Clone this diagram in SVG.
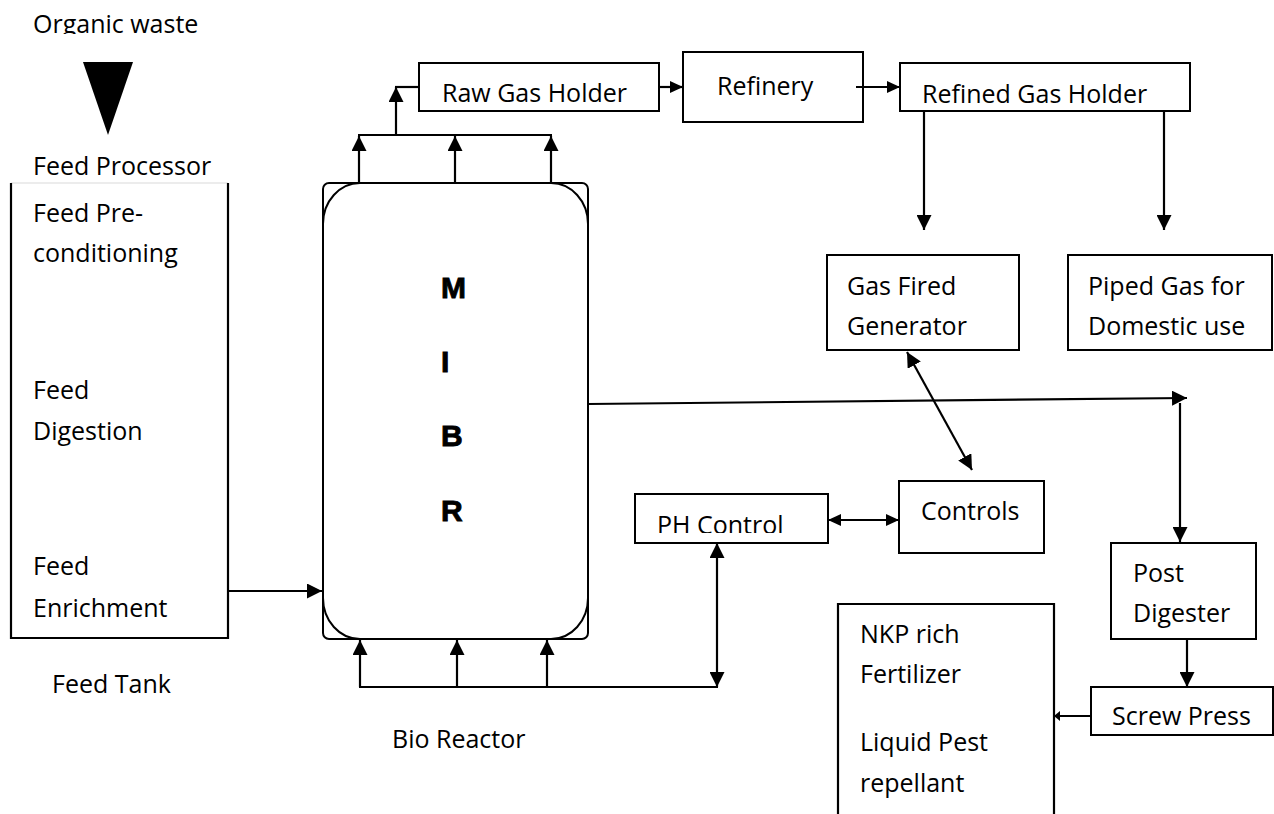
<svg xmlns="http://www.w3.org/2000/svg" width="1274" height="814" viewBox="0 0 1274 814">
<style>
text{font-family:"Open Sans","Liberation Sans",sans-serif;font-size:25px;fill:#000}
.big{font-family:"Liberation Sans",Arial,sans-serif;font-weight:900;font-size:30px;stroke:#000;stroke-width:0.9}
.box{fill:#fff;stroke:#000;stroke-width:2}
.ln{fill:none;stroke:#000;stroke-width:2.2}
</style>
<defs>
<marker id="ah" viewBox="0 0 15 15" refX="15" refY="7.5" markerWidth="15" markerHeight="15" markerUnits="userSpaceOnUse" orient="auto-start-reverse"><path d="M0,0 L15,7.5 L0,15 z" fill="#000"/></marker>
<marker id="am" viewBox="0 0 13 12" refX="13" refY="6" markerWidth="13" markerHeight="12" markerUnits="userSpaceOnUse" orient="auto-start-reverse"><path d="M0,0 L13,6 L0,12 z" fill="#000"/></marker>
<marker id="as" viewBox="0 0 6 10" refX="6" refY="5" markerWidth="6" markerHeight="10" markerUnits="userSpaceOnUse" orient="auto-start-reverse"><path d="M0,0 L6,5 L0,10 z" fill="#000"/></marker>
<clipPath id="c1"><rect x="0" y="0" width="300" height="34"/></clipPath>
<clipPath id="c2"><rect x="419" y="63" width="240" height="39"/></clipPath>
<clipPath id="c3"><rect x="900" y="63" width="290" height="40"/></clipPath>
<clipPath id="c4"><rect x="635" y="494" width="193" height="39"/></clipPath>
</defs>

<g id="organic-waste">
<text x="33" y="33" clip-path="url(#c1)">Organic waste</text>
<polygon points="83,62 133,62 108,135" fill="#000"/>
</g>

<g id="feed-tank">
<text x="33" y="175">Feed Processor</text>
<line x1="11" y1="183" x2="228" y2="183" stroke="#e6e6e6" stroke-width="1.5"/>
<path class="ln" d="M11,183 V638 H228 V183"/>
<text x="33" y="222">Feed Pre-</text>
<text x="33" y="262">conditioning</text>
<text x="33" y="399">Feed</text>
<text x="33" y="440">Digestion</text>
<text x="33" y="575">Feed</text>
<text x="33" y="617">Enrichment</text>
<text x="52" y="693">Feed Tank</text>
</g>

<g id="bio-reactor">
<rect x="323" y="183" width="265" height="456" rx="6" class="box"/>
<rect x="323" y="183" width="265" height="456" rx="37" ry="41" class="box"/>
<text class="big" x="441" y="298">M</text>
<text class="big" x="441" y="372">I</text>
<text class="big" x="441" y="446">B</text>
<text class="big" x="441" y="521">R</text>
<text x="392" y="748">Bio Reactor</text>
</g>

<g id="raw-gas-holder">
<rect x="419" y="63" width="240" height="48" class="box"/>
<text x="442" y="102" clip-path="url(#c2)">Raw Gas Holder</text>
</g>

<g id="refinery">
<rect x="683" y="52" width="180" height="70" class="box"/>
<text x="717" y="95">Refinery</text>
</g>

<g id="refined-gas-holder">
<rect x="900" y="63" width="290" height="48" class="box"/>
<text x="922" y="103" clip-path="url(#c3)">Refined Gas Holder</text>
</g>

<g id="gas-fired-generator">
<rect x="827" y="255" width="192" height="95" class="box"/>
<text x="847" y="295">Gas Fired</text>
<text x="847" y="335">Generator</text>
</g>

<g id="piped-gas">
<rect x="1068" y="255" width="204" height="95" class="box"/>
<text x="1088" y="295">Piped Gas for</text>
<text x="1088" y="335">Domestic use</text>
</g>

<g id="ph-control">
<rect x="635" y="494" width="193" height="49" class="box"/>
<text x="657" y="534" clip-path="url(#c4)">PH Control</text>
</g>

<g id="controls">
<rect x="899" y="481" width="145" height="72" class="box"/>
<text x="921" y="520">Controls</text>
</g>

<g id="post-digester">
<rect x="1111" y="543" width="145" height="96" class="box"/>
<text x="1133" y="582">Post</text>
<text x="1133" y="622">Digester</text>
</g>

<g id="screw-press">
<rect x="1091" y="687" width="182" height="48" class="box"/>
<text x="1112" y="725">Screw Press</text>
</g>

<g id="fertilizer">
<path class="ln" d="M838,816 V604 H1054 V816"/>
<text x="860" y="643">NKP rich</text>
<text x="860" y="683">Fertilizer</text>
<text x="860" y="751">Liquid Pest</text>
<text x="860" y="792">repellant</text>
</g>

<g id="connectors">
<line class="ln" x1="228" y1="591" x2="322" y2="591" marker-end="url(#ah)"/>
<line class="ln" x1="359" y1="183" x2="359" y2="136" marker-end="url(#ah)"/>
<line class="ln" x1="455" y1="183" x2="455" y2="136" marker-end="url(#ah)"/>
<line class="ln" x1="551" y1="183" x2="551" y2="136" marker-end="url(#ah)"/>
<line class="ln" x1="358" y1="135" x2="552" y2="135"/>
<line class="ln" x1="396" y1="135" x2="396" y2="87" marker-end="url(#ah)"/>
<line class="ln" x1="395" y1="87" x2="419" y2="87"/>
<line class="ln" x1="659" y1="87" x2="683" y2="87" marker-end="url(#am)"/>
<line class="ln" x1="856" y1="87" x2="900" y2="87" marker-end="url(#am)"/>
<line class="ln" x1="924" y1="111" x2="924" y2="230" marker-end="url(#ah)"/>
<line class="ln" x1="1164" y1="111" x2="1164" y2="230" marker-end="url(#ah)"/>
<line class="ln" x1="588" y1="404" x2="1187" y2="398" marker-end="url(#ah)"/>
<line class="ln" x1="1180" y1="403" x2="1180" y2="542" marker-end="url(#ah)"/>
<line class="ln" x1="907" y1="352" x2="972" y2="470" marker-start="url(#ah)" marker-end="url(#ah)"/>
<line class="ln" x1="828" y1="520" x2="899" y2="520" marker-start="url(#am)" marker-end="url(#am)"/>
<line class="ln" x1="717" y1="687" x2="717" y2="543" marker-start="url(#ah)" marker-end="url(#ah)"/>
<line class="ln" x1="359" y1="687" x2="718" y2="687"/>
<line class="ln" x1="360" y1="687" x2="360" y2="640" marker-end="url(#ah)"/>
<line class="ln" x1="457" y1="687" x2="457" y2="640" marker-end="url(#ah)"/>
<line class="ln" x1="547" y1="687" x2="547" y2="640" marker-end="url(#ah)"/>
<line class="ln" x1="1187" y1="639" x2="1187" y2="687" marker-end="url(#ah)"/>
<line class="ln" x1="1091" y1="716" x2="1054" y2="716" marker-end="url(#as)"/>
</g>
</svg>
